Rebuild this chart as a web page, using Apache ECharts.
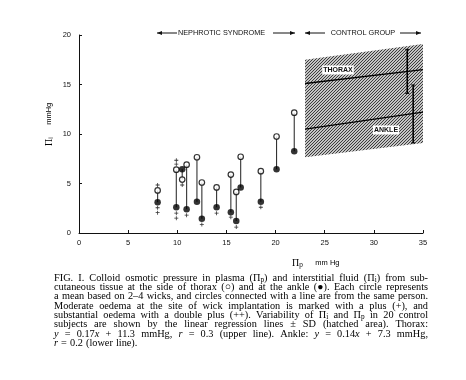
<!DOCTYPE html>
<html><head><meta charset="utf-8">
<script src="https://cdn.jsdelivr.net/npm/echarts@6/dist/echarts.min.js"></script>
<style>html,body{margin:0;padding:0;background:#fff}#c{width:466px;height:380px}</style>
</head><body><div id="c"></div>
<script>
// ---- data ----
const xTicks = [0, 5, 10, 15, 20, 25, 30, 35];
const yTicks = [0, 5, 10, 15, 20];
const pairX    = [8.0, 9.9, 10.5, 10.95, 12.0, 12.5, 14.0, 15.45, 16.0, 16.45, 18.5, 20.1, 21.9];
const thoraxPi = [4.3, 6.4, 5.4, 6.9, 7.65, 5.1, 4.6, 5.9, 4.15, 7.7, 6.25, 9.75, 12.15];
const anklePi  = [3.1, 2.6, 6.45, 2.4, 3.15, 1.45, 2.6, 2.1, 1.2, 4.6, 3.15, 6.45, 8.25];
const plusX = [8.0, 8.0, 8.0, 9.9, 9.9, 9.9, 9.9, 10.5, 10.95, 12.5, 14.0, 15.45, 16.0, 18.5];
const plusY = [4.85, 2.55, 2.05, 7.35, 6.95, 2.0, 1.5, 4.85, 1.8, 0.85, 2.0, 1.6, 0.6, 2.6];
const hatchX = [23, 35];
const hatchTop = [17.5, 19.1];
const hatchBottom = [7.65, 9.1];
const thoraxLineY = [15.1, 16.5];
const ankleLineY = [10.5, 12.2];
const sdX = [33.4, 34.0];
const sdLow = [14.1, 9.1];
const sdHigh = [18.55, 14.95];
const captionLines = [
 "FIG. I. Colloid osmotic pressure in plasma (Π_p) and interstitial fluid (Π_i) from sub-",
 "cutaneous tissue at the side of thorax (○) and at the ankle (●). Each circle represents",
 "a mean based on 2–4 wicks, and circles connected with a line are from the same person.",
 "Moderate oedema at the site of wick implantation is marked with a plus (+), and",
 "substantial oedema with a double plus (++). Variability of Π_i and Π_p in 20 control",
 "subjects are shown by the linear regression lines ± SD (hatched area). Thorax:",
 "*y* = 0.17*x* + 11.3 mmHg, *r* = 0.3 (upper line). Ankle: *y* = 0.14*x* + 7.3 mmHg,",
 "*r* = 0.2 (lower line)."
];

// ---- build ----
const chart = echarts.init(document.getElementById('c'), null, {renderer: 'canvas'});
const SERIF = '"Liberation Serif", "DejaVu Serif", serif';
const SANS = '"Liberation Sans", "DejaVu Sans", sans-serif';

// hatch pattern ("/" lines, fine period)
const pat = document.createElement('canvas');
pat.width = 3; pat.height = 3;
const pc = pat.getContext('2d');
pc.fillStyle = '#fff'; pc.fillRect(0,0,3,3);
pc.strokeStyle = '#333'; pc.lineWidth = 1.1;
pc.beginPath();
pc.moveTo(-1, 1); pc.lineTo(1, -1);
pc.moveTo(0, 3); pc.lineTo(3, 0);
pc.moveTo(2, 4); pc.lineTo(4, 2);
pc.stroke();

const pairs = pairX.map((x, i) => [x, thoraxPi[i], anklePi[i]]);
const openPts = pairX.map((x, i) => [x, thoraxPi[i]]);
const fillPts = pairX.map((x, i) => [x, anklePi[i]]);
const plusPts = plusX.map((x, i) => [x, plusY[i]]);

// caption: parse markup into rich text
const mctx = document.createElement('canvas').getContext('2d');
const FS = 10.3;
function fontFor(st) {
  if (st === 's') return (FS - 3) + 'px ' + SERIF;
  if (st === 'i') return 'italic ' + FS + 'px ' + SERIF;
  return FS + 'px ' + SERIF;
}
function parseWord(w) {
  const segs = []; let italic = false; let cur = '';
  const push = (st) => { if (cur) { segs.push({t: cur, st}); cur = ''; } };
  for (let k = 0; k < w.length; k++) {
    const ch = w[k];
    if (ch === '*') { push(italic ? 'i' : 'n'); italic = !italic; continue; }
    if (ch === '_') { push(italic ? 'i' : 'n'); segs.push({t: w[k+1], st: 's'}); k++; continue; }
    cur += ch;
  }
  push(italic ? 'i' : 'n');
  return segs;
}
const rich = {
  n: {fontSize: FS, fontFamily: SERIF, color: '#000', lineHeight: 11},
  i: {fontSize: FS, fontFamily: SERIF, fontStyle: 'italic', color: '#000', lineHeight: 11},
  s: {fontSize: FS - 3, fontFamily: SERIF, color: '#000', lineHeight: 11, padding: [4, 0, 0, 0]}
};
const capL = 54, capR = 428, capY0 = 278, capDY = 9.3;
const graphics = [];
captionLines.forEach((line, li) => {
  const words = line.split(' ');
  const segsArr = words.map(parseWord);
  const widths = segsArr.map(segs => segs.reduce((a, s) => { mctx.font = fontFor(s.st); return a + mctx.measureText(s.t).width; }, 0));
  const total = widths.reduce((a, b) => a + b, 0);
  const justify = li < captionLines.length - 1;
  mctx.font = fontFor('n');
  const spaceW = mctx.measureText(' ').width;
  const gap = justify ? (capR - capL - total) / (words.length - 1) : spaceW * 1.2;
  let x = capL;
  segsArr.forEach((segs, wi) => {
    const text = segs.map(s => '{' + s.st + '|' + s.t + '}').join('');
    graphics.push({type: 'text', x: x, y: capY0 + li * capDY, silent: true,
      style: {text: text, rich: rich, verticalAlign: 'middle', fill: '#000'}});
    x += widths[wi] + gap;
  });
});

// header arrows
function head(x, y, dir) {
  return {type: 'polygon', shape: {points: [[x, y], [x - dir * 5, y - 2], [x - dir * 5, y + 2]]}, style: {fill: '#111'}};
}
const hy = 33;
[[157, 177], [273, 295], [305, 325], [400, 421]].forEach(([a, b], k) => {
  graphics.push({type: 'line', shape: {x1: a, y1: hy, x2: b, y2: hy}, style: {stroke: '#111', lineWidth: 1}});
  if (k % 2 === 0) graphics.push(head(a, hy, -1)); else graphics.push(head(b, hy, 1));
});
graphics.push({type: 'text', x: 221.5, y: hy, style: {text: 'NEPHROTIC SYNDROME', font: '7.3px ' + SANS, fill: '#111', align: 'center', verticalAlign: 'middle'}});
graphics.push({type: 'text', x: 363, y: hy, style: {text: 'CONTROL GROUP', font: '7.3px ' + SANS, fill: '#111', align: 'center', verticalAlign: 'middle'}});
// hatch labels
graphics.push({type: 'text', x: 338, y: 70, z: 100, style: {text: 'THORAX', font: 'bold 7px ' + SANS, fill: '#111', backgroundColor: '#fff', padding: [1, 1], align: 'center', verticalAlign: 'middle'}});
graphics.push({type: 'text', x: 386, y: 130, z: 100, style: {text: 'ANKLE', font: 'bold 7px ' + SANS, fill: '#111', backgroundColor: '#fff', padding: [1, 1], align: 'center', verticalAlign: 'middle'}});
// axis titles
const axRich = {
  b: {fontSize: 10, fontFamily: SERIF, color: '#111'},
  s: {fontSize: 6.5, fontFamily: SANS, color: '#111', padding: [4, 0, 0, 0]},
  m: {fontSize: 7.5, fontFamily: SANS, color: '#111'}
};
graphics.push({type: 'text', x: 292, y: 263, style: {text: '{b|Π}{s|p}{m|      mm Hg}', rich: axRich, verticalAlign: 'middle'}});
graphics.push({type: 'text', x: 49, y: 146, rotation: Math.PI / 2, style: {text: '{b|Π}{s|i}{m|      mmHg}', rich: axRich, verticalAlign: 'middle'}});

const axisCommon = {
  axisLine: {show: true, lineStyle: {color: '#111', width: 1}},
  axisTick: {show: true, inside: true, length: 3, lineStyle: {color: '#111'}},
  splitLine: {show: false},
  axisLabel: {fontSize: 7.5, color: '#111', fontFamily: SANS}
};

chart.setOption({
  animation: false,
  backgroundColor: '#fff',
  grid: {left: 79, right: 43, top: 35, bottom: 147},
  xAxis: Object.assign({type: 'value', min: xTicks[0], max: xTicks[xTicks.length - 1], interval: 5}, axisCommon,
    {axisLabel: Object.assign({}, axisCommon.axisLabel, {margin: 6})}),
  yAxis: Object.assign({type: 'value', min: yTicks[0], max: yTicks[yTicks.length - 1], interval: 5}, axisCommon,
    {axisLabel: Object.assign({}, axisCommon.axisLabel, {margin: 8})}),
  graphic: graphics,
  series: [
    {type: 'custom', z: 1, data: [0], renderItem: (params, api) => {
      const pts = [api.coord([hatchX[0], hatchTop[0]]), api.coord([hatchX[1], hatchTop[1]]),
                   api.coord([hatchX[1], hatchBottom[1]]), api.coord([hatchX[0], hatchBottom[0]])];
      return {type: 'polygon', shape: {points: pts}, style: {fill: {image: pat, repeat: 'repeat'}, stroke: null}};
    }},
    {type: 'line', z: 2, data: hatchX.map((x, i) => [x, thoraxLineY[i]]), symbol: 'none', lineStyle: {color: '#000', width: 1.3}},
    {type: 'line', z: 2, data: hatchX.map((x, i) => [x, ankleLineY[i]]), symbol: 'none', lineStyle: {color: '#000', width: 1.3}},
    {type: 'custom', z: 3, data: sdX.map((x, i) => [x, sdLow[i], sdHigh[i]]), renderItem: (params, api) => {
      const a = api.coord([api.value(0), api.value(1)]);
      const b = api.coord([api.value(0), api.value(2)]);
      return {type: 'group', children: [
        {type: 'line', shape: {x1: a[0], y1: a[1], x2: b[0], y2: b[1]}, style: {stroke: '#000', lineWidth: 1.6}},
        {type: 'line', shape: {x1: a[0] - 2, y1: a[1], x2: a[0] + 2, y2: a[1]}, style: {stroke: '#000', lineWidth: 1}},
        {type: 'line', shape: {x1: b[0] - 2, y1: b[1], x2: b[0] + 2, y2: b[1]}, style: {stroke: '#000', lineWidth: 1}}
      ]};
    }},
    {type: 'custom', z: 4, data: pairs, renderItem: (params, api) => {
      const a = api.coord([api.value(0), api.value(1)]);
      const b = api.coord([api.value(0), api.value(2)]);
      return {type: 'line', shape: {x1: a[0], y1: a[1], x2: b[0], y2: b[1]}, style: {stroke: '#333', lineWidth: 1.1}};
    }},
    {type: 'scatter', z: 5, data: openPts, symbol: 'circle', symbolSize: 5.5,
      itemStyle: {color: '#fff', borderColor: '#000', borderWidth: 1.2}},
    {type: 'scatter', z: 5, data: fillPts, symbol: 'circle', symbolSize: 6.5,
      itemStyle: {color: '#000'}},
    {type: 'scatter', z: 5, data: plusPts, symbol: 'path://M2,0h1v2h2v1h-2v2h-1v-2h-2v-1h2z', symbolSize: 4,
      itemStyle: {color: '#000'}}
  ]
});
</script></body></html>
